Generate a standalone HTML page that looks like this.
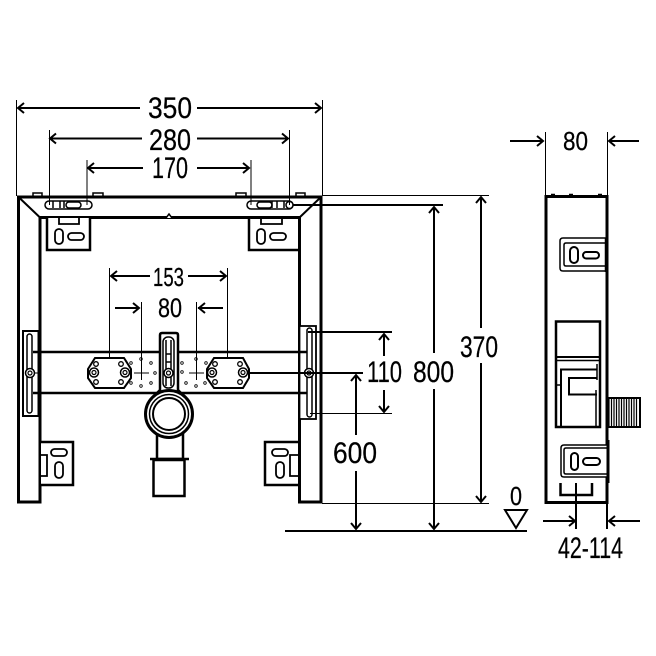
<!DOCTYPE html>
<html><head><meta charset="utf-8"><style>
html,body{margin:0;padding:0;background:#fff}
svg{display:block}
text{font-family:"Liberation Sans",sans-serif;fill:#000;stroke:#000;stroke-width:.25}
</style></head><body>
<svg width="656" height="656" viewBox="0 0 656 656" xmlns="http://www.w3.org/2000/svg">
<defs>
<g id="ah"><path d="M6,-5 L0,0 L6,5" fill="none" stroke="#000" stroke-width="2"/></g>
<g id="sc"><circle r="4.500" fill="#fff" stroke="#000" stroke-width="1.500"/><circle r="2" fill="none" stroke="#000" stroke-width="1.200"/></g>
<g id="h"><circle r="2.300" fill="#fff" stroke="#000" stroke-width="1.300"/></g>
<g id="d"><circle r="1.300" fill="#fff" stroke="#000" stroke-width=".8"/></g>
</defs>

<!-- frame front view -->
<g fill="none" stroke="#000" stroke-width="3">
<path d="M18.500 197H321V502H299.500V217.500H40V502H18.500Z" fill="#fff"/>
<path d="M18.500 197L40 217.500M321 197L299.500 217.500" stroke-width="2"/>
</g>
<path d="M166 218L169 214L172 218" fill="#fff" stroke="#000" stroke-width="1.500"/>
<path d="M33 196V193H42V196M93 196V193H103V196M236 196V193H246V196M296 196V193H305V196" fill="none" stroke="#000" stroke-width="1.500"/>

<!-- top slots -->
<g fill="#fff" stroke="#000" stroke-width="1.500">
<rect x="45" y="201" width="47" height="8" rx="4"/>
<rect x="66" y="202" width="15" height="6" rx="3"/>
<path d="M53 201V208M60 201V208M64 201V208"/>
<rect x="247" y="201" width="46" height="8" rx="4"/>
<rect x="257" y="202" width="15" height="6" rx="3"/>
<path d="M272 201V208M277 201V208M284 201V208"/>
<circle cx="289.500" cy="205" r="3.500"/>
</g>

<!-- top brackets -->
<g fill="#fff" stroke="#000" stroke-width="2.500">
<path d="M47 218V250H90V218"/>
<path d="M249 218V250H298"/>
</g>
<g fill="none" stroke="#000" stroke-width="1.800">
<path d="M59 218V224H79V218M261 218V224H282V218"/>
<rect x="55" y="229" width="8" height="15" rx="4"/>
<rect x="68" y="233" width="16" height="7" rx="3.500"/>
<rect x="257" y="229" width="8" height="15" rx="4"/>
<rect x="270" y="233" width="16" height="7" rx="3.500"/>
</g>

<!-- lower brackets -->
<g fill="#fff" stroke="#000" stroke-width="2.500">
<path d="M41 442H73V485H41"/>
<path d="M298 442H265V485H298"/>
</g>
<g fill="none" stroke="#000" stroke-width="1.800">
<path d="M41 455H47V476H41M298 455H290V476H298"/>
<rect x="51" y="449" width="16" height="7" rx="3.500"/>
<rect x="55" y="462" width="8" height="16" rx="4"/>
<rect x="272" y="449" width="16" height="7" rx="3.500"/>
<rect x="276" y="462" width="8" height="16" rx="4"/>
</g>

<!-- side mounts -->
<g fill="#fff" stroke="#000" stroke-width="2">
<rect x="23" y="331" width="15.500" height="85"/>
<rect x="299.500" y="326" width="16.500" height="93" stroke-width="1.800"/>
</g>
<g fill="none" stroke="#000" stroke-width="1.500">
<rect x="27" y="334" width="5" height="79" rx="2.500"/>
<rect x="307" y="328" width="5" height="89" rx="2.500"/>
</g>
<!-- rails -->
<path d="M33 352H307M33 393H307" stroke="#000" stroke-width="2.500"/>
<path d="M40 373H33" stroke="#000" stroke-width="1"/>
<use href="#sc" transform="translate(30,373)"/>
<use href="#sc" transform="translate(309,373)"/>

<!-- plates -->
<g fill="#fff" stroke="#000" stroke-width="2">
<path d="M95 358H124L131 369V378L124 388H95L88 378V369Z"/>
<path d="M214 358H243L249 369V378L243 388H214L207 378V369Z"/>
</g>
<g>
<use href="#h" transform="translate(96,364)"/><use href="#h" transform="translate(96,382)"/>
<use href="#h" transform="translate(121,364)"/><use href="#h" transform="translate(121,382)"/>
<use href="#h" transform="translate(215,364)"/><use href="#h" transform="translate(215,382)"/>
<use href="#h" transform="translate(240,364)"/><use href="#h" transform="translate(240,382)"/>
<use href="#sc" transform="translate(94,372.500)"/>
<use href="#sc" transform="translate(125,372.500)"/>
<use href="#sc" transform="translate(212,372.500)"/>
<use href="#sc" transform="translate(243,372.500)"/>
</g>
<path d="M134 373H149M141.500 366V380M189 373H204M196.500 366V380" stroke="#000" stroke-width="1"/>
<g>
<use href="#d" transform="translate(131,363)"/><use href="#d" transform="translate(141,359)"/><use href="#d" transform="translate(151,363)"/>
<use href="#d" transform="translate(155,373)"/><use href="#d" transform="translate(151,383)"/><use href="#d" transform="translate(141,386)"/><use href="#d" transform="translate(131,383)"/>
<use href="#d" transform="translate(182,363)"/><use href="#d" transform="translate(196,359)"/><use href="#d" transform="translate(206,363)"/>
<use href="#d" transform="translate(182,372)"/><use href="#d" transform="translate(186,383)"/><use href="#d" transform="translate(196,386)"/><use href="#d" transform="translate(205,383)"/>
</g>

<!-- pipe -->
<g fill="#fff" stroke="#000" stroke-width="2.500">
<path d="M157 428V459H183V428"/>
<rect x="153.500" y="460" width="31" height="36"/>
<path d="M150 459H189"/>
</g>
<!-- center bracket and ring -->
<path d="M160 335Q160 333 162 333H176Q178 333 178 335V390L184 396H154L160 390Z" fill="#fff" stroke="#000" stroke-width="2.500"/>
<rect x="163" y="337" width="11" height="51" rx="5" fill="#fff" stroke="#000" stroke-width="1.500"/>
<path d="M166 340V386M171 340V386M166 354H171M166 362H171" stroke="#000" stroke-width="1.500" fill="none"/>
<use href="#sc" transform="translate(168.500,373)"/>
<circle cx="169" cy="414" r="23.500" fill="#fff" stroke="#000" stroke-width="3"/>
<circle cx="169" cy="414" r="19.500" fill="#fff" stroke="#000" stroke-width="1.500"/>
<circle cx="169" cy="414" r="16" fill="#fff" stroke="#000" stroke-width="2"/>

<!-- side view -->
<g fill="none" stroke="#000" stroke-width="3">
<rect x="546" y="196.500" width="61" height="306" fill="#fff"/>
</g>
<path d="M551 195H555M569 195H573M598 195H602" stroke="#000" stroke-width="2.500"/>
<path d="M607 398H640V427H607" fill="#fff" stroke="#000" stroke-width="2"/>
<path d="M609 399V426M611.500 399V426M614 399V426M616.500 399V426M619 399V426M621.500 399V426M624 399V426M626.500 399V426M629 399V426M631.500 399V426M634 399V426M636.500 399V426" stroke="#000" stroke-width="1.200"/>
<path d="M607 398V427" stroke="#000" stroke-width="3"/>

<g fill="none" stroke="#000" stroke-width="2">
<rect x="556" y="321.500" width="44" height="105.500" fill="#fff" stroke-width="2.500"/>
<path d="M556 357H600"/><path d="M556 360.500H600" stroke-width="1.500"/>
<path d="M561 427V369.500H597"/>
<path d="M597 378H569V394.500H597"/>
<path d="M597 364V380M596 390V427" stroke-width="1.500"/>
<path d="M556 385H561" stroke-width="1.500"/>
</g>

<!-- side brackets -->
<g fill="#fff" stroke="#000" stroke-width="1.500">
<path d="M606 238H563Q560 238 560 241V268Q560 271 563 271H606"/>
<path d="M606 243H566Q564 243 564 245V264Q564 266 566 266H606"/>
<path d="M608 445H564Q561 445 561 448V474Q561 477 564 477H608"/>
<path d="M608 448H566Q564 448 564 450V472Q564 474 566 474H608"/>
</g>
<path d="M608 440V483" stroke="#000" stroke-width="3"/>
<path d="M606 238V272" stroke="#000" stroke-width="2.500"/>
<g fill="none" stroke="#000" stroke-width="2">
<rect x="570" y="247" width="8" height="16" rx="4"/>
<rect x="583" y="252" width="16" height="6.500" rx="3.200"/>
<rect x="571" y="453" width="7" height="17" rx="3.500"/>
<rect x="583" y="458" width="17" height="7" rx="3.500"/>
<path d="M560.500 483V495H592V483" stroke-width="2.500"/>
</g>

<!-- extension lines (over shapes) -->
<g stroke="#000" stroke-width="1" fill="none">
<path d="M16.500 100V196M322.500 100V196M49.500 130V205M289.500 130V205M87 160V205M251 160V205"/>
<path d="M109.500 268V358M227.500 268V358M141.500 302V380M196.500 302V380"/>
<path d="M322 195.500H489M322 503.500H489M310 413.500H392"/>
<path d="M545.500 132V196M607.500 132V196"/>
</g>

<!-- dimension lines -->
<g stroke="#000" stroke-width="2" fill="none">
<path d="M18 108H140M197 108H321"/>
<path d="M51 138.500H142M197 138.500H288"/>
<path d="M89 168H143M197 168H249"/>
<path d="M111 276H150M188 276H226"/>
<path d="M115 308H139M198 308H223"/>
<path d="M481 197V328M481 363V502"/>
<path d="M434 207V353M434 389V529"/>
<path d="M384 334V356M384 390V412"/>
<path d="M356 375V435M356 471V529"/>
<path d="M510 141H543M609 141H639"/>
<path d="M543 521H575M609 521H640"/>
<path d="M293 205H443M308 332H392M249 373H363M285 531H527"/>
<path d="M576 483V529M607 483V529"/>
</g>

<!-- arrowheads -->
<use href="#ah" transform="translate(18,108)"/>
<use href="#ah" transform="translate(321,108) rotate(180)"/>
<use href="#ah" transform="translate(50,138.500)"/>
<use href="#ah" transform="translate(288,138.500) rotate(180)"/>
<use href="#ah" transform="translate(88,168)"/>
<use href="#ah" transform="translate(249,168) rotate(180)"/>
<use href="#ah" transform="translate(111,276)"/>
<use href="#ah" transform="translate(226,276) rotate(180)"/>
<use href="#ah" transform="translate(139,308) rotate(180)"/>
<use href="#ah" transform="translate(199,308)"/>
<use href="#ah" transform="translate(543,141) rotate(180)"/>
<use href="#ah" transform="translate(609,141)"/>
<use href="#ah" transform="translate(575,521) rotate(180)"/>
<use href="#ah" transform="translate(609,521)"/>
<use href="#ah" transform="translate(481,197) rotate(90)"/>
<use href="#ah" transform="translate(481,502) rotate(-90)"/>
<use href="#ah" transform="translate(434,207) rotate(90)"/>
<use href="#ah" transform="translate(434,529) rotate(-90)"/>
<use href="#ah" transform="translate(384,334) rotate(90)"/>
<use href="#ah" transform="translate(384,412) rotate(-90)"/>
<use href="#ah" transform="translate(356,375) rotate(90)"/>
<use href="#ah" transform="translate(356,529) rotate(-90)"/>

<!-- triangle -->
<path d="M505 510H527L516 528Z" fill="#fff" stroke="#000" stroke-width="2"/>

<!-- labels -->
<text x="148" y="118" font-size="30" textLength="44" lengthAdjust="spacingAndGlyphs">350</text>
<text x="149" y="150" font-size="30" textLength="42" lengthAdjust="spacingAndGlyphs">280</text>
<text x="152" y="178" font-size="30" textLength="36" lengthAdjust="spacingAndGlyphs">170</text>
<text x="153" y="286" font-size="26" textLength="31" lengthAdjust="spacingAndGlyphs">153</text>
<text x="158" y="317" font-size="27" textLength="24" lengthAdjust="spacingAndGlyphs">80</text>
<text x="563" y="150" font-size="26" textLength="25" lengthAdjust="spacingAndGlyphs">80</text>
<text x="367" y="382" font-size="30" textLength="35" lengthAdjust="spacingAndGlyphs">110</text>
<text x="413" y="382" font-size="30" textLength="41" lengthAdjust="spacingAndGlyphs">800</text>
<text x="460" y="357" font-size="30" textLength="38" lengthAdjust="spacingAndGlyphs">370</text>
<text x="333" y="463" font-size="30" textLength="44" lengthAdjust="spacingAndGlyphs">600</text>
<text x="510" y="505" font-size="26" textLength="12" lengthAdjust="spacingAndGlyphs">0</text>
<text x="558" y="558" font-size="30" textLength="65" lengthAdjust="spacingAndGlyphs">42-114</text>
</svg>
</body></html>
